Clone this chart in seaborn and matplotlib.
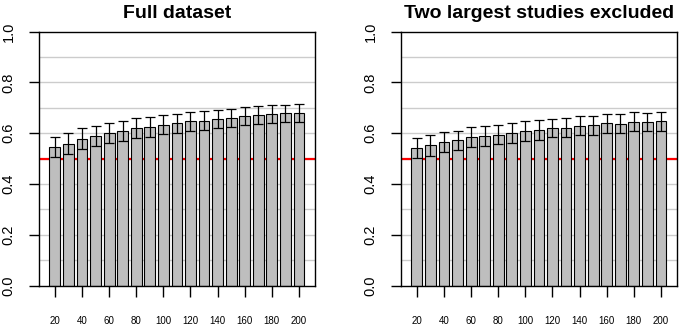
import numpy as np
import pandas as pd
import matplotlib
matplotlib.use("Agg")
import matplotlib.pyplot as plt
import seaborn as sns

# data
sizes = [20, 30, 40, 50, 60, 70, 80, 90, 100, 110, 120, 130, 140, 150, 160, 170, 180, 190, 200]
full_vals = [0.546, 0.559, 0.579, 0.589, 0.602, 0.610, 0.621, 0.625, 0.634, 0.639,
             0.648, 0.650, 0.657, 0.661, 0.667, 0.671, 0.676, 0.678, 0.681]
full_err = [0.041, 0.041, 0.040, 0.040, 0.040, 0.039, 0.038, 0.038, 0.038, 0.037,
            0.037, 0.037, 0.036, 0.036, 0.036, 0.036, 0.035, 0.035, 0.035]
excl_vals = [0.543, 0.552, 0.567, 0.572, 0.584, 0.588, 0.594, 0.601, 0.609, 0.613,
             0.621, 0.622, 0.630, 0.631, 0.639, 0.638, 0.646, 0.644, 0.648]
excl_err = [0.040, 0.040, 0.039, 0.039, 0.039, 0.039, 0.038, 0.038, 0.038, 0.038,
            0.037, 0.037, 0.037, 0.037, 0.037, 0.037, 0.037, 0.036, 0.037]
titles = ["Full dataset", "Two largest studies excluded"]
tick_labels = ["20", "40", "60", "80", "100", "120", "140", "160", "180", "200"]

sns.set_theme(style="ticks")
plt.rcParams['font.family'] = ['Liberation Sans', 'DejaVu Sans']
plt.rcParams['text.color'] = 'black'
plt.rcParams['xtick.labelcolor'] = 'black'
plt.rcParams['ytick.labelcolor'] = 'black'

fig = plt.figure(figsize=(6.8, 3.26), dpi=100)
ax1 = fig.add_axes([39/680, 1-285.7/326, 276/680, 254/326])
ax2 = fig.add_axes([401/680, 1-285.7/326, 276/680, 254/326])

panels = [(ax1, full_vals, full_err, titles[0]), (ax2, excl_vals, excl_err, titles[1])]
for ax, vals, err, ttl in panels:
    df = pd.DataFrame({'n': [str(s) for s in sizes], 'auc': vals})
    # grid lines and reference line behind bars
    for g in np.arange(0.1, 1.0, 0.1):
        ax.axhline(g, color='#cccccc', lw=1.0, zorder=0)
    ax.axhline(0.5, color='red', lw=1.6, zorder=0.5)
    sns.barplot(data=df, x='n', y='auc', color='#bebebe', saturation=1,
                edgecolor='black', linewidth=0.8, width=0.8, errorbar=None,
                ax=ax, zorder=2)
    pos = np.arange(len(sizes))
    ax.errorbar(pos, vals, yerr=err, fmt='none', ecolor='black',
                elinewidth=0.9, capsize=3.3, capthick=0.9, zorder=3)
    ax.set_xlim(-1.17, 19.18)
    ax.set_ylim(0, 1.0)
    ax.set_xticks(pos[::2])
    ax.set_xticklabels(tick_labels, fontsize=7)
    ax.tick_params(axis='x', length=8, width=1, pad=14, color='black')
    ax.set_yticks([0.0, 0.2, 0.4, 0.6, 0.8, 1.0])
    ax.set_yticklabels(["0.0", "0.2", "0.4", "0.6", "0.8", "1.0"], fontsize=10.5,
                       rotation=90, va='center')
    ax.tick_params(axis='y', length=7, width=1, pad=10, color='black')
    ax.set_xlabel("")
    ax.set_ylabel("")
    for sp in ax.spines.values():
        sp.set_visible(True)
        sp.set_color('black')
        sp.set_linewidth(1.0)
    ax.set_title(ttl, fontsize=14, fontweight='bold', pad=10, color='black')

fig.savefig("out.png", dpi=100)
